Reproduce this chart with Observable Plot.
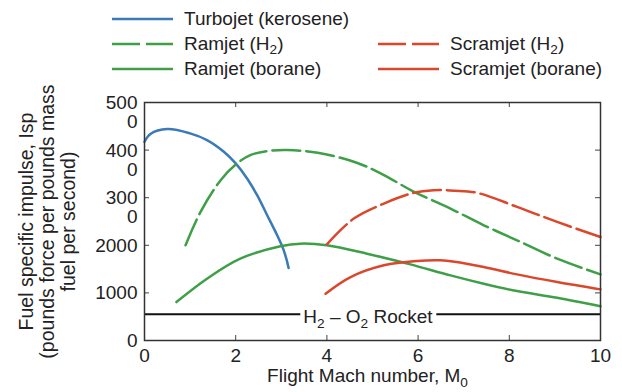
<!DOCTYPE html>
<html>
<head>
<meta charset="utf-8">
<script src="https://cdn.jsdelivr.net/npm/d3@7"></script>
<script src="https://cdn.jsdelivr.net/npm/@observablehq/plot@0.6"></script>
<style>
  body { margin: 0; background: #fff; }
  #wrap { position: relative; width: 622px; height: 392px; font-family: "Liberation Sans", Arial, Helvetica, sans-serif; color: #222; }
  #legend { position: absolute; left: 0; top: 0; width: 622px; height: 86px; }
  #chart { position: absolute; left: 0; top: 0; }
  .item { position: absolute; height: 20px; display: flex; align-items: center; font-size: 19px; white-space: nowrap; }
  .item svg { margin-right: 11px; }
  .item sub { font-size: 72%; vertical-align: -0.3em; line-height: 0; }
</style>
</head>
<body>
<div id="wrap">
  <div id="chart"></div>
  <div id="legend"></div>
</div>
<script>
// ---- data ----
const seriesNames  = ["Turbojet (kerosene)", "Ramjet (H_2)", "Ramjet (borane)", "Scramjet (H_2)", "Scramjet (borane)"];
const seriesColors = ["#3a7ab9", "#3f9f48", "#3f9f48", "#db472c", "#db472c"];
const seriesDash   = [null, "28,6", null, "28,6", null];

const turbojetMach = [0, 0.13, 0.5, 1.0, 1.37, 1.74, 2.0, 2.25, 2.47, 2.69, 2.91, 3.04, 3.16];
const turbojetIsp  = [4175, 4340, 4442, 4351, 4210, 3965, 3720, 3404, 3053, 2632, 2210, 1930, 1523];

const ramjetH2Mach = [0.9, 1.23, 1.67, 2.0, 2.32, 2.69, 3.13, 3.8, 4.67, 5.24, 5.9, 6.71, 7.44, 8.17, 9.05, 10];
const ramjetH2Isp  = [2000, 2702, 3368, 3698, 3895, 3979, 4000, 3945, 3730, 3480, 3130, 2772, 2421, 2105, 1719, 1389];

const ramjetBoraneMach = [0.7, 1.37, 2.1, 2.98, 3.42, 4.0, 4.88, 5.83, 6.71, 7.44, 8.17, 9.05, 10];
const ramjetBoraneIsp  = [807, 1298, 1719, 1979, 2035, 2000, 1824, 1600, 1368, 1193, 1038, 898, 720];

const scramH2Mach = [4.0, 4.59, 5.25, 5.9, 6.34, 6.8, 7.3, 8.17, 9.05, 10];
const scramH2Isp  = [2021, 2561, 2877, 3101, 3158, 3148, 3101, 2807, 2491, 2175];

const scramBoraneMach = [3.97, 4.52, 5.25, 5.98, 6.49, 6.8, 7.44, 8.17, 9.05, 10];
const scramBoraneIsp  = [983, 1333, 1579, 1670, 1684, 1655, 1544, 1389, 1228, 1074];

const rocketIsp = 550;
const rocketLabel = [{mach: 4.9, text: "H_2 – O_2 Rocket"}];

const xTicks = [0, 2, 4, 6, 8, 10];
const xTickLabels = ["0", "2", "4", "6", "8", "10"];
const yTicks = [0, 1000, 2000, 3000, 4000, 5000];
const yTickLabels = ["0", "1000", "2000", "300\n0", "400\n0", "500\n0"];

const xLabel = "Flight Mach number, M_0";
const yLabelLines = ["Fuel specific impulse, Isp", "(pounds force per pounds mass", "fuel per second)"];

// ---- build table ----
const machs = [turbojetMach, ramjetH2Mach, ramjetBoraneMach, scramH2Mach, scramBoraneMach];
const isps  = [turbojetIsp, ramjetH2Isp, ramjetBoraneIsp, scramH2Isp, scramBoraneIsp];
const rows = [];
machs.forEach((ms, s) => ms.forEach((m, i) => rows.push({series: seriesNames[s], mach: m, isp: isps[s][i]})));

// ---- legend ----
const slots = [[112, 9], [112, 34], [112, 59], [378, 34], [378, 59]];
const legend = document.getElementById("legend");
seriesNames.forEach((name, i) => {
  const div = document.createElement("div");
  div.className = "item";
  div.style.left = slots[i][0] + "px";
  div.style.top = slots[i][1] + "px";
  const dash = seriesDash[i] ? `stroke-dasharray="${seriesDash[i]}"` : "";
  div.innerHTML = `<svg width="61" height="6"><line x1="0" x2="61" y1="3" y2="3" stroke="${seriesColors[i]}" stroke-width="2.5" ${dash}/></svg>` +
    `<span>${name.replace(/_(\w)/g, "<sub>$1</sub>")}</span>`;
  legend.appendChild(div);
});

// ---- plot ----
const W = 622, H = 392, mL = 144, mR = 22, mT = 102, mB = 52;
const pw = W - mL - mR, ph = H - mT - mB;
const font = 19;

const lineMarks = seriesNames.map((name, i) =>
  Plot.line(rows.filter(d => d.series === name), {
    x: "mach", y: "isp", stroke: seriesColors[i], strokeWidth: 2.5,
    strokeDasharray: seriesDash[i] ?? undefined, curve: "catmull-rom"
  })
);

const chart = Plot.plot({
  width: W, height: H,
  marginLeft: mL, marginRight: mR, marginTop: mT, marginBottom: mB,
  style: {fontFamily: '"Liberation Sans", Arial, Helvetica, sans-serif', fontSize: font + "px", color: "#222", background: "transparent"},
  x: {domain: [0, 10]},
  y: {domain: [0, 5000]},
  marks: [
    Plot.ruleY([rocketIsp], {stroke: "#111", strokeWidth: 2}),
    Plot.text(rocketLabel, {x: "mach", y: () => rocketIsp, text: "text", fontSize: font, fill: "#222", dy: 3, className: "rocket-label"}),
    ...lineMarks,
    Plot.tickY(yTicks, {y: d => d, stroke: "#444", insetRight: pw - 5}),
    Plot.tickY(yTicks, {y: d => d, stroke: "#444", insetLeft: pw - 5}),
    Plot.tickX(xTicks, {x: d => d, stroke: "#444", insetTop: ph - 5}),
    Plot.tickX(xTicks, {x: d => d, stroke: "#444", insetBottom: ph - 5}),
    Plot.frame({stroke: "#333", strokeWidth: 1.5}),
    Plot.axisX({ticks: xTicks, tickSize: 0, tickPadding: 8, tickFormat: (d, i) => xTickLabels[i], label: null, fontSize: font, fill: "#222"}),
    Plot.axisY({ticks: yTicks, tickSize: 0, tickPadding: 7, tickFormat: (d, i) => yTickLabels[i], label: null, fontSize: font, fill: "#222", lineAnchor: "top", dy: -7}),
    Plot.text([xLabel], {frameAnchor: "bottom", text: d => d, dx: -5, dy: 41, fontSize: font, fill: "#222", className: "x-label"}),
    Plot.text([yLabelLines.join("\n")], {frameAnchor: "left", textAnchor: "middle", lineAnchor: "middle", text: d => d, rotate: -90, dx: -97, lineHeight: 1.08, fontSize: 19.5, fill: "#222"})
  ]
});
document.getElementById("chart").appendChild(chart);

// ---- subscripts and rocket label gap ----
const ns = "http://www.w3.org/2000/svg";
function subscriptify(el) {
  const parts = el.textContent.split(/_(\w)/);
  el.textContent = "";
  parts.forEach((p, i) => {
    if (p === "") return;
    const t = document.createElementNS(ns, "tspan");
    t.textContent = p;
    if (i % 2 === 1) { t.setAttribute("dy", "5"); t.setAttribute("font-size", "72%"); }
    else if (i > 0) { t.setAttribute("dy", "-5"); }
    el.appendChild(t);
  });
}
d3.select(chart).selectAll("text").each(function () {
  if (this.children.length === 0 && this.textContent.includes("_")) subscriptify(this);
});
d3.select(chart).selectAll("g.rocket-label text").each(function () {
  const b = this.getBBox();
  const r = document.createElementNS(ns, "rect");
  r.setAttribute("x", b.x - 3); r.setAttribute("y", b.y);
  r.setAttribute("width", b.width + 6); r.setAttribute("height", b.height);
  r.setAttribute("fill", "#fff");
  if (this.getAttribute("transform")) r.setAttribute("transform", this.getAttribute("transform"));
  this.parentNode.insertBefore(r, this);
});
</script>
</body>
</html>
